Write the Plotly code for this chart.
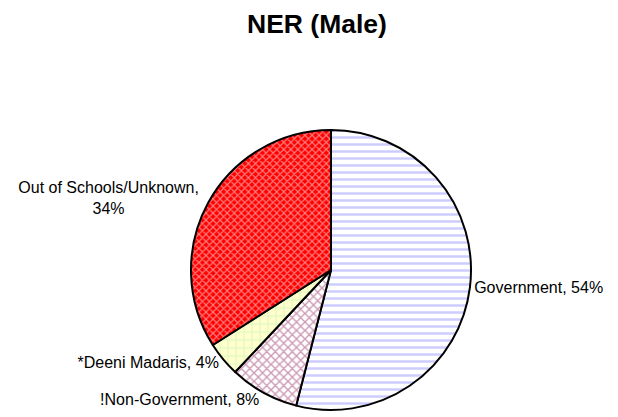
import plotly.graph_objects as go

categories = ["Government", "!Non-Government", "*Deeni Madaris", "Out of Schools/Unknown"]
values = [54, 8, 4, 34]
bg_colors = ["#FFFFFF", "#FFFFFF", "#FFFFCC", "#FF0000"]
fg_colors = ["#9999FF", "#993366", "#B8F0B8", "#FFFFFF"]
shapes = ["-", "x", "+", "x"]
pat_sizes = [7, 6, 8, 5]
solidities = [0.35, 0.4, 0.25, 0.4]
templates = ["%{label}, %{percent:.0%}", "%{label}, %{percent:.0%}",
             "%{label}, %{percent:.0%}", "%{label},<br>%{percent:.0%}"]

W, H = 618, 417
cx, cy, r = 323, 262, 140

fig = go.Figure(go.Pie(
    labels=categories,
    values=values,
    sort=False,
    direction="clockwise",
    rotation=0,
    texttemplate=templates,
    textposition="outside",
    textfont=dict(family="Liberation Sans, Arial", size=16, color="black"),
    marker=dict(
        colors=bg_colors,
        line=dict(color="black", width=2),
        pattern=dict(shape=shapes, fgcolor=fg_colors, bgcolor=bg_colors,
                     size=pat_sizes, solidity=solidities, fillmode="overlay"),
    ),
    domain=dict(x=[(cx - r) / W, (cx + r) / W], y=[(H - cy - r) / H, (H - cy + r) / H]),
    showlegend=False,
    hoverinfo="skip",
))

fig.update_layout(
    width=W, height=H,
    margin=dict(l=0, r=0, t=0, b=0),
    paper_bgcolor="white",
    title=dict(text="<b>NER (Male)</b>", x=0.5, xanchor="center", y=1 - 16 / H, yanchor="middle",
               font=dict(family="Liberation Sans, Arial", size=26.5, color="black")),
)

fig.write_html("out.html")
